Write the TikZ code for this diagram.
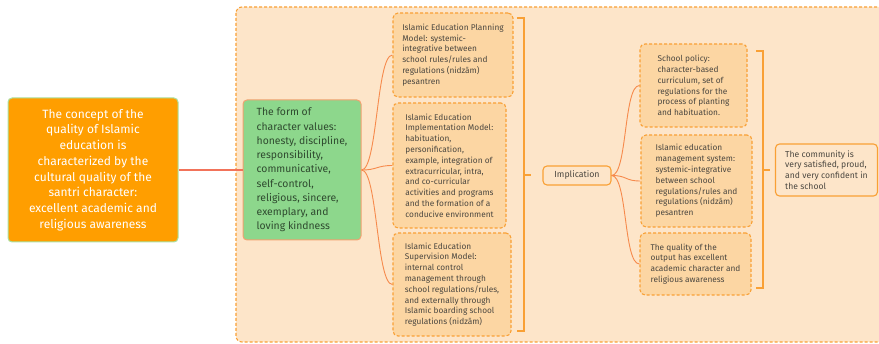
\documentclass[tikz,border=0pt]{standalone}
\usepackage{fontspec}
\setmainfont{Fira Sans}
\definecolor{bgpeach}{HTML}{FDE5C9}
\definecolor{boxpeach}{HTML}{FCD6A3}
\definecolor{dashorange}{HTML}{F9A035}
\definecolor{linkorange}{HTML}{F68A4C}
\definecolor{mainred}{HTML}{F2735A}
\definecolor{conceptorange}{HTML}{FF9E00}
\definecolor{conceptrim}{HTML}{A9E2A3}
\definecolor{formgreen}{HTML}{8DD78C}
\definecolor{formrim}{HTML}{F3A170}
\definecolor{boxtext}{HTML}{4B4740}
\definecolor{formtext}{HTML}{2F4A2F}

\begin{document}
\begin{tikzpicture}[x=1pt,y=-1pt,
	box/.style={draw=dashorange,fill=boxpeach,dash pattern=on 3pt off 2pt,line width=1.1pt,rounded corners=5pt,align=left,text=boxtext,font=\fontsize{8.3}{10.8}\selectfont},
	solidbox/.style={draw=dashorange,fill=bgpeach,line width=1.1pt,rounded corners=4pt,align=left,text=boxtext},
	link/.style={draw=linkorange,line width=0.9pt},
	bracket/.style={draw=dashorange,line width=1.2pt}]
	\useasboundingbox (0,0) rectangle (879,344);
	\draw[draw=dashorange,fill=bgpeach,dash pattern=on 3pt off 2pt,line width=1.1pt,rounded corners=6pt] (236,7) rectangle (886,342);
	\node[draw=conceptrim,fill=conceptorange,line width=1pt,rounded corners=4pt,minimum width=170,minimum height=144,align=center,text=white,font=\fontsize{12}{15.7}\selectfont] (concept) at (93,170) {The concept of the\\quality of Islamic\\education is\\characterized by the\\cultural quality of the\\santri character:\\excellent academic and\\religious awareness};
	\node[draw=formrim,fill=formgreen,line width=1pt,rounded corners=4pt,minimum width=118,minimum height=140,align=left,text=formtext,font=\fontsize{10.4}{14.25}\selectfont] (form) at (302,170) {The form of\\character values:\\honesty, discipline,\\responsibility,\\communicative,\\self-control,\\religious, sincere,\\exemplary, and\\loving kindness};
	\node[box,minimum width=120,minimum height=84] (plan) at (453,55) {Islamic Education Planning\\Model: systemic-\\integrative between\\school rules/rules and\\regulations (nidzām)\\pesantren};
	\node[box,minimum width=113,minimum height=125] (impl) at (449.5,165.5) {Islamic Education\\Implementation Model:\\habituation,\\personification,\\example, integration of\\extracurricular, intra,\\and co-curricular\\activities and programs\\and the formation of a\\conducive environment};
	\node[box,minimum width=118,minimum height=103] (super) at (452,284.5) {Islamic Education\\Supervision Model:\\internal control\\management through\\school regulations/rules,\\and externally through\\Islamic boarding school\\regulations (nidzām)};
	\node[solidbox,minimum width=68,minimum height=19,font=\fontsize{8.8}{10}\selectfont] (implic) at (577,175.5) {Implication};
	\node[box,minimum width=107,minimum height=83] (policy) at (693.5,85.5) {School policy:\\character-based\\curriculum, set of\\regulations for the\\process of planting\\and habituation.};
	\node[box,minimum width=111,minimum height=92] (system) at (696.5,181) {Islamic education\\management system:\\systemic-integrative\\between school\\regulations/rules and\\regulations (nidzām)\\pesantren};
	\node[box,minimum width=111,minimum height=62] (output) at (695.5,264) {The quality of the\\output has excellent\\academic character and\\religious awareness};
	\node[solidbox,minimum width=102,minimum height=52,font=\fontsize{8.6}{10.8}\selectfont] (community) at (826.5,170) {The community is\\very satisfied, proud,\\and very confident in\\the school};
	\draw[draw=mainred,line width=2pt] (concept.east) -- (form.west);
	\draw[link] (form.east) .. controls +(16,0) and +(-16,0) .. (plan.west);
	\draw[link] (form.east) .. controls +(16,0) and +(-16,0) .. (impl.west);
	\draw[link] (form.east) .. controls +(16,0) and +(-16,0) .. (super.west);
	\draw[link] (implic.east) .. controls +(16,0) and +(-16,0) .. (policy.west);
	\draw[link] (implic.east) .. controls +(16,0) and +(-16,0) .. (system.west);
	\draw[link] (implic.east) .. controls +(16,0) and +(-16,0) .. (output.west);
	\coordinate (b1top) at (517,18);
	\coordinate (b1bot) at (517,331);
	\coordinate (b1mid) at (524,175);
	\coordinate (b2top) at (756,51);
	\coordinate (b2bot) at (756,288);
	\coordinate (b2mid) at (763,170);
	\draw[bracket] (b1top) -- ++(7,0) |- (b1bot);
	\draw[bracket] (b1mid) -- ++(7,0);
	\draw[bracket] (b2top) -- ++(7,0) |- (b2bot);
	\draw[bracket] (b2mid) -- ++(7,0);
\end{tikzpicture}
\end{document}
